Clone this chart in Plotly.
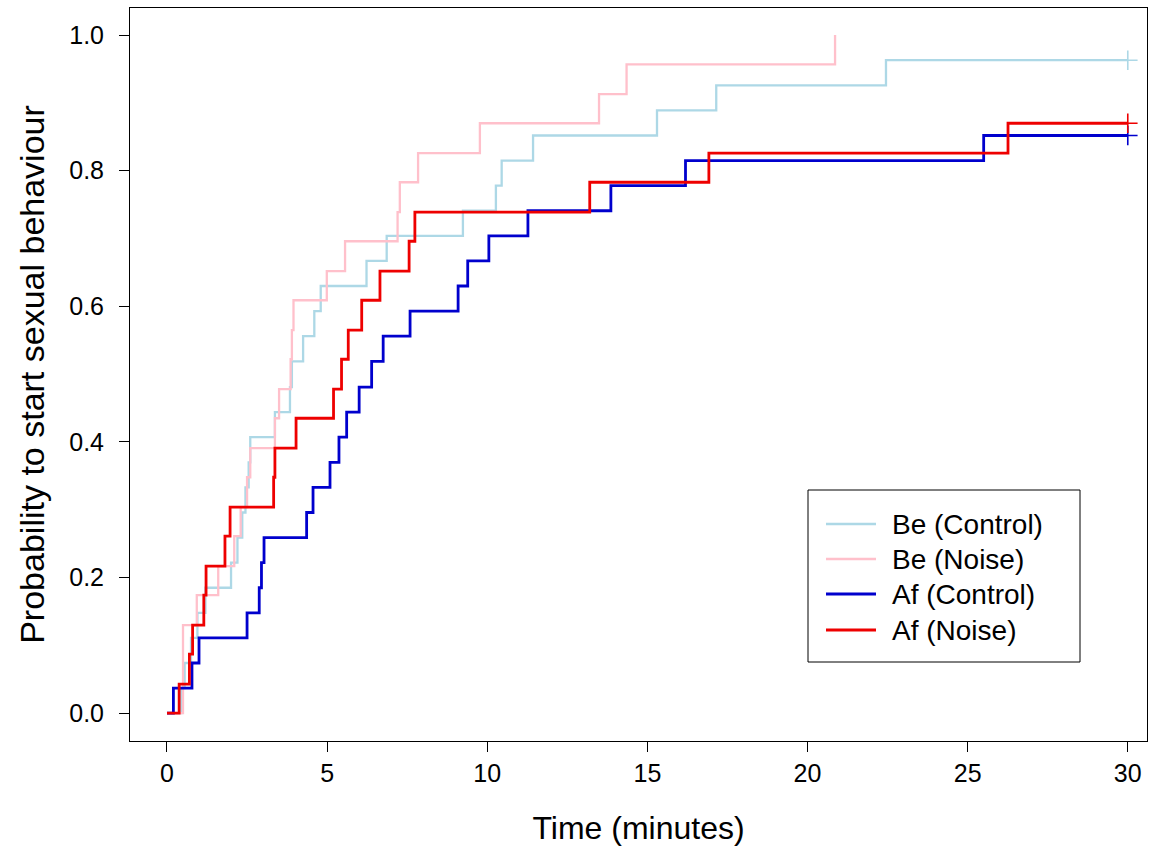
import plotly.graph_objects as go

# ---- data (time in minutes, cumulative probability) ----
be_control_t = [0, 0.45, 0.55, 0.75, 0.95, 1.2, 2.0, 2.2, 2.35, 2.45, 2.55, 2.6, 3.37, 3.84, 3.9,
                4.25, 4.6, 4.8, 6.23, 6.86, 9.24, 10.27, 10.45, 11.43, 15.3, 17.15, 22.45, 30]
be_control_p = [0, 0.037, 0.074, 0.111, 0.148, 0.185, 0.222, 0.259, 0.296, 0.333, 0.370, 0.407, 0.444,
                0.481, 0.519, 0.556, 0.593, 0.630, 0.667, 0.704, 0.741, 0.778, 0.815, 0.852, 0.889,
                0.926, 0.963, 0.963]

be_noise_t = [0, 0.5, 0.93, 1.6, 2.1, 2.3, 2.5, 2.6, 3.37, 3.5, 3.86, 3.9, 3.95, 4.99, 5.56, 7.2,
              7.27, 7.84, 9.77, 13.49, 14.35, 20.86]
be_noise_p = [0, 0.130, 0.174, 0.217, 0.261, 0.304, 0.348, 0.391, 0.435, 0.478, 0.522, 0.565, 0.609,
              0.652, 0.696, 0.739, 0.783, 0.826, 0.870, 0.913, 0.957, 1.0]

af_control_t = [0, 0.2, 0.78, 1.0, 2.5, 2.88, 2.95, 3.03, 4.36, 4.56, 5.09, 5.37, 5.61, 6.0, 6.39,
                6.75, 7.59, 9.09, 9.39, 10.05, 11.27, 13.86, 16.19, 25.5, 30]
af_control_p = [0, 0.037, 0.074, 0.111, 0.148, 0.185, 0.222, 0.259, 0.296, 0.333, 0.370, 0.407,
                0.444, 0.481, 0.519, 0.556, 0.593, 0.630, 0.667, 0.704, 0.741, 0.778, 0.815, 0.852,
                0.852]

af_noise_t = [0, 0.38, 0.7, 0.8, 1.15, 1.22, 1.81, 1.97, 3.33, 3.37, 4.03, 5.2, 5.45, 5.66, 6.08,
              6.65, 7.56, 7.74, 13.2, 16.92, 26.26, 30]
af_noise_p = [0, 0.043, 0.087, 0.130, 0.174, 0.217, 0.261, 0.304, 0.348, 0.391, 0.435, 0.478, 0.522,
              0.565, 0.609, 0.652, 0.696, 0.739, 0.783, 0.826, 0.870, 0.870]

series_names = ["Be (Control)", "Be (Noise)", "Af (Control)", "Af (Noise)"]
series_colors = ["#ADD8E6", "#FFC0CB", "#0000CD", "#EE0000"]
series_widths = [2.3, 2.3, 2.8, 2.8]
censored = [True, False, True, True]

x_ticks = [0, 5, 10, 15, 20, 25, 30]
y_ticks = [0.0, 0.2, 0.4, 0.6, 0.8, 1.0]

series = [(be_control_t, be_control_p), (be_noise_t, be_noise_p),
          (af_control_t, af_control_p), (af_noise_t, af_noise_p)]

FONT = "Liberation Sans, Arial, sans-serif"
W, H = 1161, 854
ML, MR, MT, MB = 130, 14, 8, 113

fig = go.Figure()
for (t, p), name, col, w, cen in zip(series, series_names, series_colors, series_widths, censored):
    fig.add_trace(go.Scatter(x=t, y=p, mode="lines", line=dict(color=col, width=w, shape="hv"),
                             name=name, showlegend=False, hoverinfo="skip"))
    if cen:
        fig.add_trace(go.Scatter(x=[t[-1]], y=[p[-1]], mode="markers",
                                 marker=dict(symbol="cross-thin", size=14,
                                             line=dict(color=col, width=1.6)),
                                 showlegend=False, hoverinfo="skip"))

# ---- manual legend in pixel positions converted to paper coordinates ----
pw, ph = W - ML - MR, H - MT - MB
def px(x):
    return (x - ML) / pw
def py(y):
    return (H - MB - y) / ph

shapes = [dict(type="rect", xref="paper", yref="paper", x0=px(808), x1=px(1080), y0=py(662), y1=py(490),
               line=dict(color="black", width=1), fillcolor="white", layer="below")]
annotations = []
legend_rows = [524, 559, 594, 630]
for row, name, col, w in zip(legend_rows, series_names, series_colors, series_widths):
    shapes.append(dict(type="line", xref="paper", yref="paper", x0=px(826), x1=px(876), y0=py(row),
                       y1=py(row), line=dict(color=col, width=w)))
    annotations.append(dict(xref="paper", yref="paper", x=px(890), y=py(row), text=name, showarrow=False,
                            xanchor="left", yanchor="middle", font=dict(size=28, color="black", family=FONT)))

fig.update_layout(
    width=W, height=H,
    margin=dict(l=ML, r=MR, t=MT, b=MB),
    paper_bgcolor="white", plot_bgcolor="white",
    font=dict(family=FONT, color="black"),
    shapes=shapes, annotations=annotations,
    showlegend=False,
    xaxis=dict(range=[-1.155, 30.6], tickvals=x_ticks, ticktext=[str(v) for v in x_ticks],
               showgrid=False, zeroline=False, showline=True, mirror=True, linecolor="black", linewidth=1,
               ticks="outside", ticklen=10, tickwidth=1, tickcolor="black", tickfont=dict(size=25),
               title=dict(text="Time (minutes)", font=dict(size=32), standoff=30)),
    yaxis=dict(range=[-0.041, 1.04], tickvals=y_ticks, ticktext=[f"{v:.1f}" for v in y_ticks],
               showgrid=False, zeroline=False, showline=True, mirror=True, linecolor="black", linewidth=1,
               ticks="outside", ticklen=10, tickwidth=1, tickcolor="black", tickfont=dict(size=25),
               ticklabelstandoff=10,
               title=dict(text="Probability to start sexual behaviour", font=dict(size=34), standoff=14)),
)

fig.write_html("out.html")
